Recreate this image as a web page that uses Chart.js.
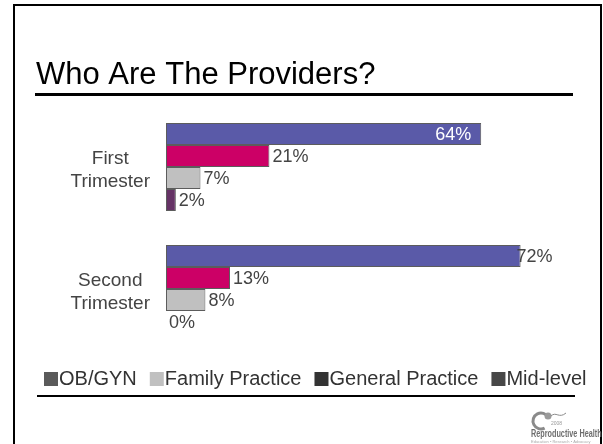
<!DOCTYPE html>
<html>
<head>
<meta charset="utf-8">
<script src="https://cdn.jsdelivr.net/npm/chart.js@4"></script>
<style>
  html, body { margin: 0; padding: 0; background: #fff; }
  #wrap { width: 603px; height: 444px; position: relative; }
</style>
</head>
<body>
<div id="wrap"><canvas id="graficoProvedores" width="603" height="444"></canvas></div>
<script>
const categorias = [['First', 'Trimester'], ['Second', 'Trimester']];
const obGyn = [64, 72];
const familyPractice = [21, 13];
const generalPractice = [7, 8];
const midLevel = [2, 0];
const nomesSeries = ['OB/GYN', 'Family Practice', 'General Practice', 'Mid-level'];
const coresLegenda = ['#5a5a5a', '#c0c0c0', '#333333', '#474747'];

const fonte = "'Liberation Sans', Arial, sans-serif";

// moldura, titulo, linhas e logo do slide
const slidePlugin = {
    id: 'slide',
    beforeDraw(chart) {
        const ctx = chart.ctx;
        ctx.save();
        ctx.fillStyle = '#fff';
        ctx.fillRect(0, 0, chart.width, chart.height);
        ctx.strokeStyle = '#000';
        ctx.lineWidth = 2;
        ctx.beginPath();
        ctx.moveTo(14, 444);
        ctx.lineTo(14, 5);
        ctx.lineTo(601, 5);
        ctx.lineTo(601, 444);
        ctx.stroke();

        ctx.fillStyle = '#000';
        ctx.font = '31px ' + fonte;
        ctx.textBaseline = 'alphabetic';
        ctx.fillText('Who Are The Providers?', 36, 84);
        ctx.fillRect(35, 93, 538, 3);
        ctx.fillRect(37, 395, 538, 2);

        // logo
        ctx.strokeStyle = '#8a8a8a';
        ctx.lineWidth = 3;
        ctx.beginPath();
        ctx.arc(541, 421, 8, 0.35 * Math.PI, 1.85 * Math.PI);
        ctx.stroke();
        ctx.fillStyle = '#9a9a9a';
        ctx.beginPath();
        ctx.arc(548, 416, 3.5, 0, 2 * Math.PI);
        ctx.fill();
        ctx.lineWidth = 1;
        ctx.beginPath();
        ctx.moveTo(551, 416);
        ctx.bezierCurveTo(556, 411, 559, 419, 566, 413);
        ctx.stroke();
        ctx.fillStyle = '#999';
        ctx.font = '5px ' + fonte;
        ctx.fillText('2008', 551, 425);
        ctx.fillStyle = '#6e6e6e';
        ctx.save();
        ctx.translate(531, 437);
        ctx.scale(0.66, 1);
        ctx.font = 'bold 11px ' + fonte;
        ctx.fillText('Reproductive Health', 0, 0);
        ctx.restore();
        ctx.fillStyle = '#aaa';
        ctx.font = '4px ' + fonte;
        ctx.fillText('Education \u2022 Research \u2022 Advocacy', 531, 443);
        ctx.restore();
    },
    afterDraw(chart) {
        // legenda
        const ctx = chart.ctx;
        ctx.save();
        ctx.font = '20px ' + fonte;
        ctx.textBaseline = 'middle';
        let x = 44;
        const y = 379;
        nomesSeries.forEach((nome, i) => {
            ctx.fillStyle = coresLegenda[i];
            ctx.fillRect(x, y - 7, 14, 14);
            ctx.fillStyle = '#333';
            ctx.fillText(nome, x + 15, y);
            x += 15 + ctx.measureText(nome).width + 13;
        });
        ctx.restore();
    }
};

// rotulos de valores nas barras
const rotulosPlugin = {
    id: 'rotulos',
    afterDatasetsDraw(chart) {
        const ctx = chart.ctx;
        ctx.save();
        ctx.font = '18px ' + fonte;
        ctx.textBaseline = 'middle';
        chart.data.datasets.forEach((ds, di) => {
            chart.getDatasetMeta(di).data.forEach((bar, i) => {
                const v = ds.data[i];
                const txt = v + '%';
                ctx.fillStyle = '#444';
                ctx.textAlign = 'left';
                let tx = bar.x + 3;
                if (di === 0 && v < 70) {
                    ctx.fillStyle = '#fff';
                    ctx.textAlign = 'right';
                    tx = bar.x - 10;
                } else if (di === 0) {
                    tx = bar.x - 4;
                }
                ctx.fillText(txt, tx, bar.y + 1);
            });
        });
        ctx.restore();
    }
};

const ctxProvedores = document.getElementById('graficoProvedores').getContext('2d');
const graficoProvedores = new Chart(ctxProvedores, {
    type: 'bar',
    data: {
        labels: categorias,
        datasets: [
            {
                label: nomesSeries[0],
                data: obGyn,
                backgroundColor: '#5a5aa8',
                borderColor: '#5c5c5c',
                borderWidth: 1
            },
            {
                label: nomesSeries[1],
                data: familyPractice,
                backgroundColor: '#cc0066',
                borderColor: '#5c5c5c',
                borderWidth: 1
            },
            {
                label: nomesSeries[2],
                data: generalPractice,
                backgroundColor: '#c0c0c0',
                borderColor: '#5c5c5c',
                borderWidth: 1
            },
            {
                label: nomesSeries[3],
                data: midLevel,
                backgroundColor: '#663366',
                borderColor: '#5c5c5c',
                borderWidth: 1
            }
        ]
    },
    options: {
        indexAxis: 'y',
        responsive: false,
        animation: false,
        layout: {
            padding: { left: 0, top: 106, right: 43, bottom: 94 }
        },
        datasets: {
            bar: {
                barPercentage: 1,
                categoryPercentage: 0.72,
                borderSkipped: false
            }
        },
        plugins: {
            legend: { display: false },
            tooltip: { enabled: false }
        },
        scales: {
            x: {
                display: false,
                min: 0,
                max: 80
            },
            y: {
                grid: { display: false },
                border: { display: false },
                afterFit(scale) { scale.width = 166; },
                ticks: {
                    crossAlign: 'center',
                    padding: 8,
                    labelOffset: 3,
                    color: '#444',
                    font: { family: fonte, size: 19, lineHeight: 1.2 }
                }
            }
        }
    },
    plugins: [slidePlugin, rotulosPlugin]
});
</script>
</body>
</html>
